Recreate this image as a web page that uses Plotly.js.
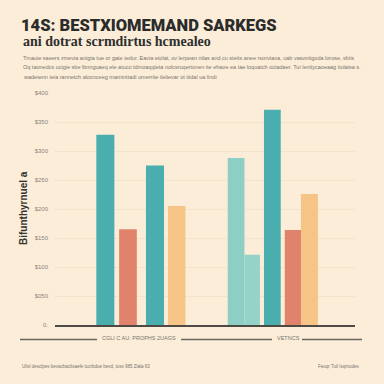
<!DOCTYPE html>
<html>
<head>
<meta charset="utf-8">
<script src="https://cdn.plot.ly/plotly-3.0.1.min.js"></script>
<style>html,body{margin:0;padding:0;background:#FBEDD8;}#chart{width:384px;height:384px;}</style>
</head>
<body>
<div id="chart"></div>
<script>
// ---- data ----
const titleText = "14S: BESTXIOMEMAND SARKEGS";
const subtitleText = "ani dotrat scrmdirtus hcmealeo";
const paragraphLines = [
  "Tmauie saeers zmevia anigta tue or gate tedur. Eavia etolat, ov lerpean nilas and cu steits anee rsorvtaxa, uab vasonitgoda lorose, sbiis",
  "Oq taonedcs ucigie sbe lbnnguaeq ele atuco tdmoaqqieta nolcsruqertonen ite ehaoe ea tae loquatch octadaer. Tui lenitycaoeaag tiulaisa s.",
  "wadetenn teia rannetch alocnceeg marninttadi umerrite ileltevar ot itidal ua lindi"
];
const yAxisTitle = "Bifunthyrnuel a";
const groupLabels = ["CGLI C AU. PROPHS 2UAGS", "VETNCS"];
const leftCategories = ["L1", "L2", "L3", "L4"];
const leftValues = [328, 165, 275, 205];
const rightCategories = ["R1", "R2", "R3", "R4", "R5"];
const rightValues = [288, 121, 371, 164, 226];
const yTickValues = [0, 50, 100, 150, 200, 250, 300, 350, 400];
const yTickLabels = ["0.", "$050", "$100", "$150", "$200", "$250", "$300", "$350", "$400"];
const footerLeft = "Ulisl desclpes bevacbacltsaefe tocrbdue bevd, toss 985 Zlala 63";
const footerRight = "Feoqr Tuil Isqmodes";

// ---- styles ----
const leftColors = ["#4AAEAE", "#E0826C", "#4AAEAE", "#F6C486"];
const rightColors = ["#8DCFC5", "#95D3C8", "#4AAEAE", "#E0826C", "#F6C486"];
const leftOffsets = [-0.36, -0.40, -0.27, -0.34];
const leftWidths = [0.76, 0.745, 0.76, 0.73];
const rightOffsets = [-0.46, -0.55, -0.49, -0.36, -0.48];
const rightWidths = [0.91, 0.84, 0.91, 0.89, 0.92];
const bg = "#FBEDD8";

const traces = [
  {type: "scatter", x: [], y: [], xaxis: "x", yaxis: "y", showlegend: false, hoverinfo: "skip"},
  {type: "bar", x: leftCategories, y: leftValues, xaxis: "x2", yaxis: "y",
   marker: {color: leftColors, line: {width: 0}}, width: leftWidths, offset: leftOffsets, showlegend: false},
  {type: "bar", x: rightCategories, y: rightValues, xaxis: "x3", yaxis: "y",
   marker: {color: rightColors, line: {width: 0}}, width: rightWidths, offset: rightOffsets, showlegend: false}
];

// plot area: left 55, right 355, top 93, bottom 325
const L = 55, W = 300, T = 93, H = 232;
const px = v => (v - L) / W;
const py = v => (T + H - v) / H;
const smallFont = "Liberation Sans Narrow, Liberation Sans";

const ann = [];
ann.push({text: subtitleText, x: px(21), y: py(42), xref: "paper", yref: "paper", xanchor: "left", yanchor: "middle", showarrow: false,
  font: {family: "Liberation Serif", size: 14, color: "#2f2f2f", weight: "bold"}});
paragraphLines.forEach((t, i) => ann.push({text: t, x: px(21), y: py(57.5 + i * 9.5), xref: "paper", yref: "paper", xanchor: "left", yanchor: "middle", showarrow: false,
  font: {family: smallFont, size: 5.5, color: "#7a756e"}}));
ann.push({text: "<b>" + yAxisTitle + "</b>", x: px(23), y: py(208), xref: "paper", yref: "paper", xanchor: "center", yanchor: "middle", textangle: -90, showarrow: false,
  font: {family: smallFont, size: 10, color: "#333"}});
ann.push({text: groupLabels[0], x: px(139), y: py(338), xref: "paper", yref: "paper", xanchor: "center", yanchor: "middle", showarrow: false,
  font: {family: smallFont, size: 5.5, color: "#7a756e"}});
ann.push({text: groupLabels[1], x: px(288), y: py(338), xref: "paper", yref: "paper", xanchor: "center", yanchor: "middle", showarrow: false,
  font: {family: smallFont, size: 5.5, color: "#7a756e"}});
ann.push({text: footerLeft, x: px(20), y: py(366), xref: "paper", yref: "paper", xanchor: "left", yanchor: "middle", showarrow: false,
  font: {family: smallFont, size: 4.5, color: "#7a756e"}});
ann.push({text: footerRight, x: px(362), y: py(366), xref: "paper", yref: "paper", xanchor: "right", yanchor: "middle", showarrow: false,
  font: {family: smallFont, size: 4.5, color: "#7a756e"}});

const lineStyle = {color: "#6a6660", width: 1.5};
const shapes = [
  {type: "line", xref: "paper", yref: "paper", x0: px(20), x1: px(97), y0: py(339.5), y1: py(339.5), line: lineStyle},
  {type: "line", xref: "paper", yref: "paper", x0: px(181), x1: px(272), y0: py(339.5), y1: py(339.5), line: lineStyle},
  {type: "line", xref: "paper", yref: "paper", x0: px(302), x1: px(362), y0: py(339.5), y1: py(339.5), line: lineStyle}
];

const hiddenX = {showgrid: false, zeroline: false, showticklabels: false, ticks: "", fixedrange: true};
const layout = {
  width: 384, height: 384,
  margin: {l: L, r: 384 - L - W, t: T, b: 384 - T - H, pad: 0},
  paper_bgcolor: bg, plot_bgcolor: bg,
  showlegend: false,
  title: {text: titleText, x: 21 / 384, xanchor: "left", xref: "container", y: 1 - 25 / 384, yanchor: "middle", yref: "container",
    font: {family: "Roboto", size: 16.5, color: "#2b2b2b", weight: 900}},
  xaxis: Object.assign({}, hiddenX, {domain: [0, 1], range: [0, 1], showline: true, linecolor: "#4d4a46", linewidth: 1.5, anchor: "y"}),
  xaxis2: Object.assign({}, hiddenX, {domain: [px(93), px(188)], anchor: "y"}),
  xaxis3: Object.assign({}, hiddenX, {domain: [px(227), px(319)], anchor: "y"}),
  yaxis: {range: [0, 400], tickvals: yTickValues, ticktext: yTickLabels, showgrid: true, gridcolor: "#F3E3CC", gridwidth: 1,
    zeroline: false, showline: false, ticks: "", ticklabelstandoff: 6,
    tickfont: {family: smallFont, size: 6, color: "#8a857d"}, anchor: "x", fixedrange: true},
  annotations: ann,
  shapes: shapes
};

Plotly.newPlot("chart", traces, layout, {displayModeBar: false, staticPlot: true});
</script>
</body>
</html>
